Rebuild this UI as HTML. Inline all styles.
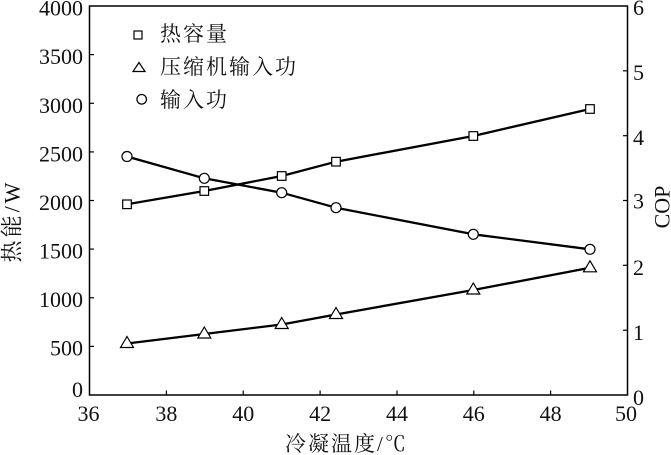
<!DOCTYPE html>
<html><head><meta charset="utf-8"><style>
html,body{margin:0;padding:0;background:#fff;}
svg{display:block;}
.n{font-family:"Liberation Serif",serif;font-size:22px;fill:#111;}
.c{font-family:"Liberation Serif","Noto Serif CJK SC",serif;font-size:21px;fill:#111;}
</style></head><body>
<svg width="671" height="455" viewBox="0 0 671 455" xmlns="http://www.w3.org/2000/svg">
<rect x="0" y="0" width="671" height="455" fill="#fff"/>
<!-- frame -->
<rect x="89.5" y="6" width="538" height="389" fill="none" stroke="#000" stroke-width="1.5"/>
<!-- left ticks -->
<g stroke="#000" stroke-width="1.2">
<line x1="89.5" y1="346.4" x2="94" y2="346.4"/>
<line x1="89.5" y1="297.8" x2="94" y2="297.8"/>
<line x1="89.5" y1="249.1" x2="94" y2="249.1"/>
<line x1="89.5" y1="200.5" x2="94" y2="200.5"/>
<line x1="89.5" y1="151.9" x2="94" y2="151.9"/>
<line x1="89.5" y1="103.3" x2="94" y2="103.3"/>
<line x1="89.5" y1="54.6" x2="94" y2="54.6"/>
<!-- right ticks -->
<line x1="627.5" y1="330.2" x2="623" y2="330.2"/>
<line x1="627.5" y1="265.3" x2="623" y2="265.3"/>
<line x1="627.5" y1="200.5" x2="623" y2="200.5"/>
<line x1="627.5" y1="135.7" x2="623" y2="135.7"/>
<line x1="627.5" y1="70.8" x2="623" y2="70.8"/>
<!-- bottom ticks -->
<line x1="166.4" y1="395" x2="166.4" y2="390.5"/>
<line x1="243.2" y1="395" x2="243.2" y2="390.5"/>
<line x1="320.1" y1="395" x2="320.1" y2="390.5"/>
<line x1="397" y1="395" x2="397" y2="390.5"/>
<line x1="473.8" y1="395" x2="473.8" y2="390.5"/>
<line x1="550.6" y1="395" x2="550.6" y2="390.5"/>
</g>
<!-- left labels -->
<g class="n" text-anchor="end">
<text x="83" y="397">0</text>
<text x="83" y="355.5">500</text>
<text x="83" y="307">1000</text>
<text x="83" y="258.5">1500</text>
<text x="83" y="210">2000</text>
<text x="83" y="161.5">2500</text>
<text x="83" y="113">3000</text>
<text x="83" y="64">3500</text>
<text x="83" y="15.5">4000</text>
</g>
<!-- right labels -->
<g class="n" text-anchor="start">
<text x="633" y="405">0</text>
<text x="633" y="340">1</text>
<text x="633" y="275">2</text>
<text x="633" y="208.5">3</text>
<text x="633" y="145">4</text>
<text x="633" y="80">5</text>
<text x="633" y="15">6</text>
</g>
<!-- bottom labels -->
<g class="n" text-anchor="middle">
<text x="88.5" y="421">36</text>
<text x="166.4" y="421">38</text>
<text x="243.2" y="421">40</text>
<text x="320.1" y="421">42</text>
<text x="397" y="421">44</text>
<text x="473.8" y="421">46</text>
<text x="550.6" y="421">48</text>
<text x="626" y="421">50</text>
</g>
<!-- axis titles -->
<text class="c" x="285" y="444" dominant-baseline="central" letter-spacing="2">冷凝温度/℃</text>
<text class="c" transform="translate(12,221) rotate(-90)" text-anchor="middle" dominant-baseline="central" letter-spacing="3" style="font-size:22px">热能/W</text>
<text class="n" transform="translate(662,207) rotate(-90)" text-anchor="middle" dominant-baseline="central">COP</text>
<!-- series lines -->
<g fill="none" stroke="#000" stroke-width="2.3" stroke-linejoin="round">
<polyline points="127,204.3 204.3,191 281.7,176 336,161.7 473.3,136 590,109"/>
<polyline points="127,156.5 204.3,178.3 281.7,192.7 336,207.7 473.3,234.3 590,249.3"/>
<polyline points="127,343.5 204.3,334 281.7,324.5 336,314.5 473.3,290 590,267.8"/>
</g>
<!-- markers -->
<g fill="#fff" stroke="#000" stroke-width="1.2">
<rect x="122.7" y="200" width="8.6" height="8.6"/>
<rect x="200" y="186.7" width="8.6" height="8.6"/>
<rect x="277.4" y="171.7" width="8.6" height="8.6"/>
<rect x="331.7" y="157.4" width="8.6" height="8.6"/>
<rect x="469" y="131.7" width="8.6" height="8.6"/>
<rect x="585.7" y="104.7" width="8.6" height="8.6"/>
<circle cx="127" cy="156.5" r="5"/>
<circle cx="204.3" cy="178.3" r="5"/>
<circle cx="281.7" cy="192.7" r="5"/>
<circle cx="336" cy="207.7" r="5"/>
<circle cx="473.3" cy="234.3" r="5"/>
<circle cx="590" cy="249.3" r="5"/>
<polygon points="127,336.5 133.5,347.5 120.5,347.5"/>
<polygon points="204.3,327 210.8,338 197.8,338"/>
<polygon points="281.7,317.5 288.2,328.5 275.2,328.5"/>
<polygon points="336,307.5 342.5,318.5 329.5,318.5"/>
<polygon points="473.3,283 479.8,294 466.8,294"/>
<polygon points="590,260.8 596.5,271.8 583.5,271.8"/>
<!-- legend markers -->
<rect x="134" y="31" width="8" height="8"/>
<polygon points="139,62.5 145,71.5 133,71.5"/>
<circle cx="141.7" cy="99.3" r="4.8"/>
</g>
<!-- legend text -->
<g class="c" dominant-baseline="central" letter-spacing="2">
<text x="160" y="34">热容量</text>
<text x="160" y="67">压缩机输入功</text>
<text x="160" y="100">输入功</text>
</g>
</svg>
</body></html>
